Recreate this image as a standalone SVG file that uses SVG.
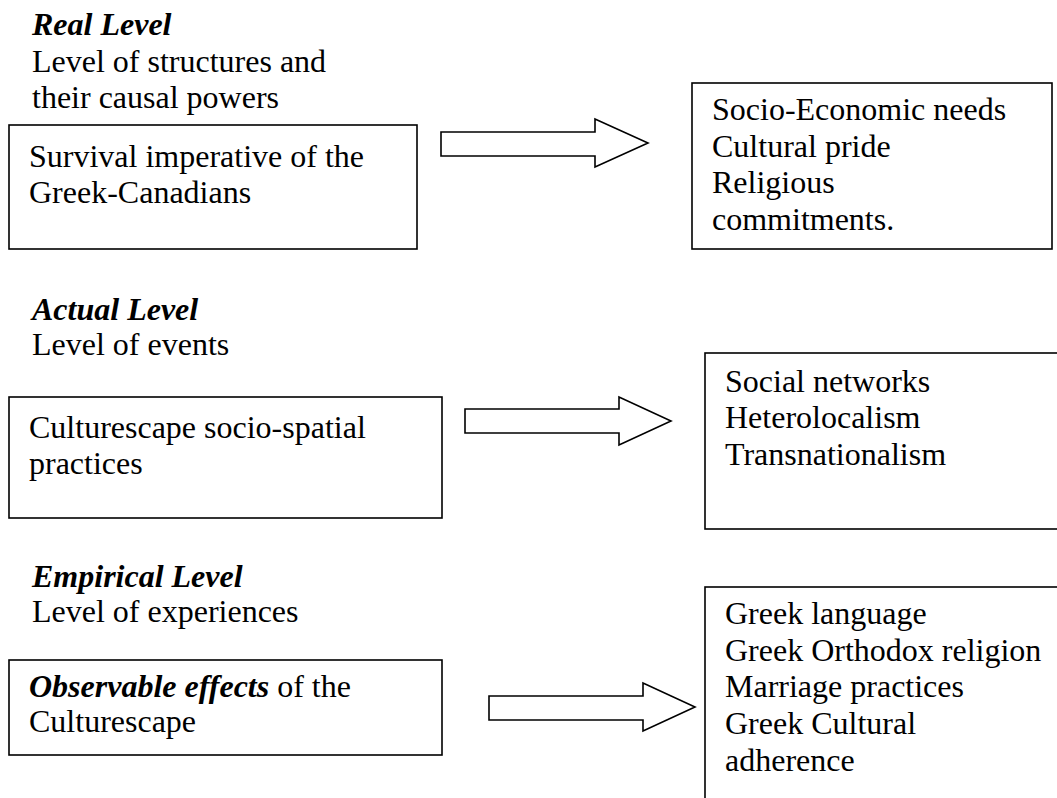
<svg xmlns="http://www.w3.org/2000/svg" width="1057" height="798" viewBox="0 0 1057 798" font-family="Liberation Serif, Times New Roman, serif">
<style>
text{font-family:"Liberation Serif","Times New Roman",serif;font-size:32px;fill:#000}
.h{font-weight:bold;font-style:italic}
.box{fill:#fff;stroke:#000;stroke-width:1.6}
.arr{fill:#fff;stroke:#000;stroke-width:1.6;stroke-linejoin:miter}
</style>
<rect width="1057" height="798" fill="#fff"/>
<g id="real-label">
<text x="32" y="35" class="h">Real Level</text>
<text x="32" y="72">Level of structures and</text>
<text x="32" y="108">their causal powers</text>
</g>
<g id="real-left">
<rect class="box" x="9" y="125" width="408" height="124"/>
<text x="29" y="167">Survival imperative of the</text>
<text x="29" y="203">Greek-Canadians</text>
</g>
<g id="real-right">
<rect class="box" x="692" y="83" width="360" height="166"/>
<text x="712" y="120">Socio-Economic needs</text>
<text x="712" y="157">Cultural pride</text>
<text x="712" y="193">Religious</text>
<text x="712" y="230">commitments.</text>
</g>
<g id="actual-label">
<text x="32" y="320" class="h">Actual Level</text>
<text x="32" y="355">Level of events</text>
</g>
<g id="actual-left">
<rect class="box" x="9" y="397" width="433" height="121"/>
<text x="29" y="438">Culturescape socio-spatial</text>
<text x="29" y="474">practices</text>
</g>
<g id="actual-right">
<rect class="box" x="705" y="353" width="400" height="176"/>
<text x="725" y="392">Social networks</text>
<text x="725" y="428">Heterolocalism</text>
<text x="725" y="465">Transnationalism</text>
</g>
<g id="empirical-label">
<text x="32" y="587" class="h">Empirical Level</text>
<text x="32" y="622">Level of experiences</text>
</g>
<g id="empirical-left">
<rect class="box" x="9" y="660" width="433" height="95"/>
<text x="29" y="697"><tspan class="h">Observable effects</tspan> of the</text>
<text x="29" y="732">Culturescape</text>
</g>
<g id="empirical-right">
<rect class="box" x="705" y="587" width="400" height="260"/>
<text x="725" y="624">Greek language</text>
<text x="725" y="661">Greek Orthodox religion</text>
<text x="725" y="697">Marriage practices</text>
<text x="725" y="734">Greek Cultural</text>
<text x="725" y="771">adherence</text>
</g>
<g id="connectors">
<path class="arr" d="M441,132 H595 V119 L648,143 L595,167 V156 H441 Z"/>
<path class="arr" d="M465,409 H619 V397 L671,421 L619,445 V433 H465 Z"/>
<path class="arr" d="M489,696 H643 V683 L695,707 L643,731 V720 H489 Z"/>
</g>
</svg>
